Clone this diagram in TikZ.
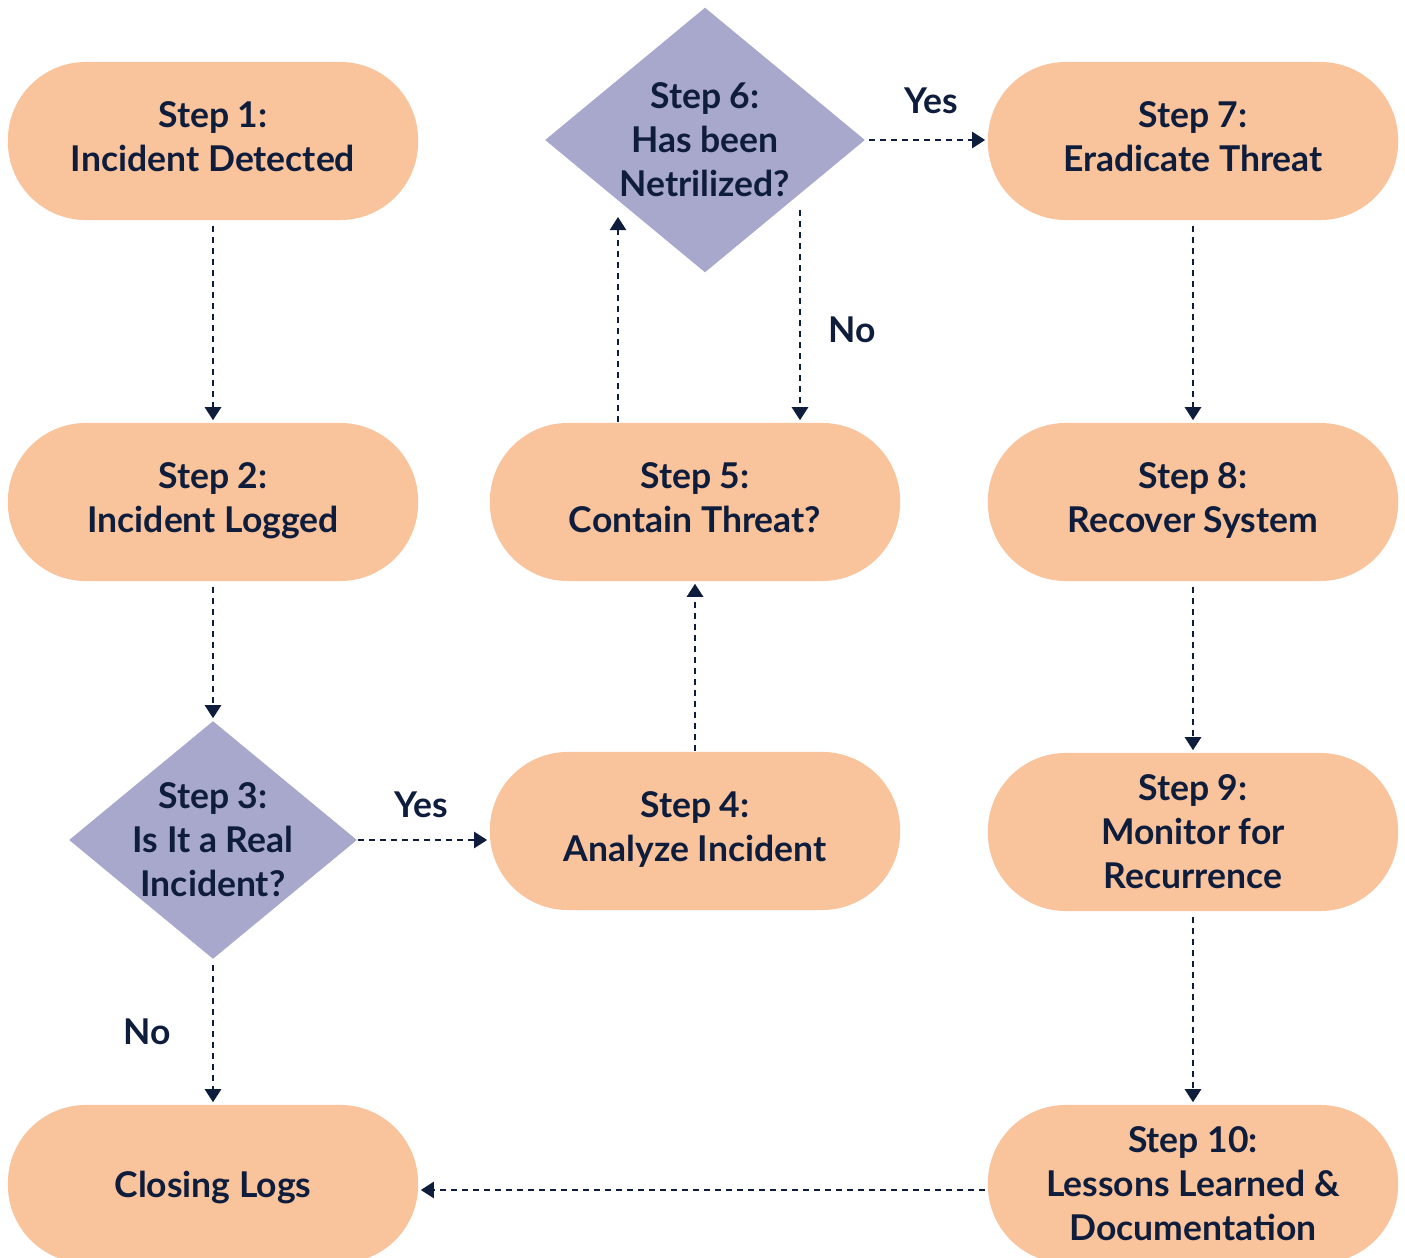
\documentclass[tikz,border=0pt]{standalone}
\usepackage{fontspec}
\setmainfont{Lato}
\usetikzlibrary{shapes.geometric,arrows.meta}
\definecolor{peach}{HTML}{F9C39C}
\definecolor{lav}{HTML}{A8A8CC}
\definecolor{navy}{HTML}{0F1D3D}

\begin{document}
\begin{tikzpicture}[x=0.01cm,y=-0.01cm,
  txt/.style={text=navy, font=\fontsize{10.1}{12.5}\selectfont\bfseries, align=center},
  stadium/.style={txt, rectangle, rounded corners=0.78cm, fill=peach,
    minimum width=4.1cm, minimum height=1.58cm, inner sep=0pt},
  twoline/.style={text depth=0.08cm},
  decision/.style={diamond, fill=lav, inner sep=0pt},
  flow/.style={draw=navy, line width=0.7pt, dash pattern=on 0.06cm off 0.05cm,
    -{Triangle[length=0.13cm,width=0.16cm]}, shorten <=0.05cm, shorten >=0.02cm},
  lbl/.style={txt}]
  \useasboundingbox (0,0) rectangle (1405,1258);

  % left column
  \node[stadium, twoline] (s1) at (213,141) {Step 1:\\Incident Detected};
  \node[stadium, twoline] (s2) at (213,502) {Step 2:\\Incident Logged};
  \node[decision, minimum width=2.88cm, minimum height=2.38cm] (s3) at (213,840) {};
  \node[txt] (s3t) at (213,840) {Step 3:\\Is It a Real\\Incident?};
  \node[stadium, text depth=0pt] (cl) at (213,1184) {Closing Logs};

  % middle column
  \node[stadium, twoline] (s4) at (695,831) {Step 4:\\Analyze Incident};
  \node[stadium, twoline] (s5) at (695,502) {Step 5:\\Contain Threat?};
  \node[decision, minimum width=3.2cm, minimum height=2.65cm] (s6) at (705,140) {};
  \node[txt] (s6t) at (705,140) {Step 6:\\Has been\\Netrilized?};

  % right column
  \node[stadium, twoline] (s7) at (1193,141) {Step 7:\\Eradicate Threat};
  \node[stadium, twoline] (s8) at (1193,502) {Step 8:\\Recover System};
  \node[stadium] (s9) at (1193,832) {Step 9:\\Monitor for\\Recurrence};
  \node[stadium] (s10) at (1193,1184) {Step 10:\\Lessons Learned \&\\Documentation};

  % loose ends at the decision diamond and the last step
  \coordinate (s6in) at (618,217);
  \coordinate (s6out) at (800,210);
  \coordinate (s10out) at (985,1190);

  % connectors
  \draw[flow] (s1.south) -- (s2.north);
  \draw[flow] (s2.south) -- (s3.north);
  \draw[flow, shorten <=0pt] (s3.east) -- (s3.east -| s4.west);
  \draw[flow] (s3.south) -- (cl.north);
  \draw[flow, shorten <=0pt] (s4.north) -- (s5.south);
  \draw[flow, shorten <=0pt, shorten >=0pt] (s5.north -| s6in) -- (s6in);
  \draw[flow, shorten <=0pt] (s6out) -- (s6out |- s5.north);
  \draw[flow, shorten <=0.03cm] (s6.east) -- (s6.east -| s7.west);
  \draw[flow] (s7.south) -- (s8.north);
  \draw[flow] (s8.south) -- (s9.north);
  \draw[flow] (s9.south) -- (s10.north);
  \draw[flow, shorten <=0pt] (s10out) -- (s10out -| cl.east);

  % branch labels
  \node[lbl] (yes3) at (421,805) {Yes};
  \node[lbl] (no3) at (147,1032) {No};
  \node[lbl] (yes6) at (931,101) {Yes};
  \node[lbl] (no6) at (852,330) {No};
\end{tikzpicture}
\end{document}
